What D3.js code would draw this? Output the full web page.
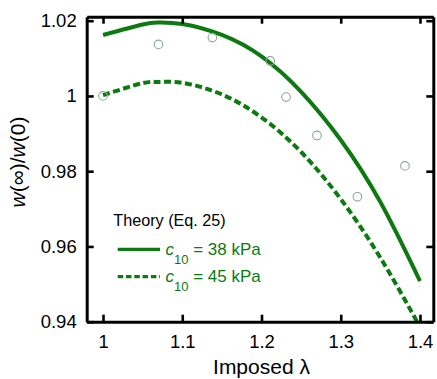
<!DOCTYPE html>
<html>
<head>
<meta charset="utf-8">
<script src="https://cdn.jsdelivr.net/npm/d3@7"></script>
<style>
  html, body { margin: 0; padding: 0; background: #fff; }
  svg { display: block; font-family: "Liberation Sans", Arial, sans-serif; }
</style>
</head>
<body>
<svg id="chart" width="437" height="379"></svg>
<script>
// Imposed stretch values at which the theory curves are sampled
const lambdas = [1.00, 1.05, 1.07, 1.10, 1.15, 1.20, 1.25, 1.30, 1.35, 1.40];
// Theory (Eq. 25): w(inf)/w(0) for c10 = 38 kPa (solid) and c10 = 45 kPa (dashed)
const theory38 = [1.0162, 1.0190, 1.0195, 1.0191, 1.0162, 1.0105, 1.0011, 0.9883, 0.9718, 0.9508];
const theory45 = [1.0002, 1.0034, 1.0037, 1.0035, 1.0004, 0.9943, 0.9851, 0.9726, 0.9570, 0.9386];
// Measured points
const measuredLambda = [1.000, 1.070, 1.138, 1.211, 1.231, 1.270, 1.321, 1.381];
const measuredRatio  = [1.0000, 1.0137, 1.0155, 1.0093, 0.9997, 0.9895, 0.9732, 0.9814];

const xTicks = [1, 1.1, 1.2, 1.3, 1.4];
const xTickLabels = ["1", "1.1", "1.2", "1.3", "1.4"];
const yTicks = [0.94, 0.96, 0.98, 1, 1.02];
const yTickLabels = ["0.94", "0.96", "0.98", "1", "1.02"];
const legendTitle = "Theory (Eq. 25)";
const legendValues = ["38 kPa", "45 kPa"];

const green = "#0c7a10";
const circleColor = "#8da79a";

const svg = d3.select("#chart");
const plotLeft = 86.7, plotRight = 433.3, plotTop = 16.7, plotBottom = 321.7;

const x = d3.scaleLinear().domain([0.9794, 1.4168]).range([plotLeft, plotRight]);
const y = d3.scaleLinear().domain([0.94, 1.02106]).range([plotBottom, plotTop]);

svg.append("defs").append("clipPath").attr("id", "plot-clip")
  .append("rect").attr("x", plotLeft).attr("y", plotTop)
  .attr("width", plotRight - plotLeft).attr("height", plotBottom - plotTop);

const line = d3.line().x(d => x(d[0])).y(d => y(d[1])).curve(d3.curveNatural);
const zip = (xs, ys) => xs.map((v, i) => [v, ys[i]]);

const plot = svg.append("g").attr("clip-path", "url(#plot-clip)");
plot.append("path").datum(zip(lambdas, theory38))
  .attr("d", line).attr("fill", "none").attr("stroke", green)
  .attr("stroke-width", 4).attr("stroke-linecap", "butt");
plot.append("path").datum(zip(lambdas, theory45))
  .attr("d", line).attr("fill", "none").attr("stroke", green)
  .attr("stroke-width", 4).attr("stroke-dasharray", "7,3.5");

plot.selectAll("circle.pt").data(zip(measuredLambda, measuredRatio)).join("circle")
  .attr("class", "pt")
  .attr("cx", d => x(d[0])).attr("cy", d => y(d[1])).attr("r", 4.3)
  .attr("fill", "none").attr("stroke", circleColor).attr("stroke-width", 1.1);

// Axes: inward ticks on all four sides
function styleAxis(g) {
  g.select(".domain").attr("stroke", "#000").attr("stroke-width", 3);
  g.selectAll(".tick line").attr("stroke", "#000").attr("stroke-width", 2.6);
  g.selectAll(".tick text").attr("fill", "#000")
    .attr("font-size", "18.5px").attr("font-family", "Liberation Sans, Arial, sans-serif");
}

svg.append("g").attr("transform", `translate(0,${plotBottom})`)
  .call(d3.axisBottom(x).tickValues(xTicks).tickSize(-7).tickSizeOuter(0).tickPadding(13.3)
    .tickFormat((d, i) => xTickLabels[i]))
  .call(styleAxis);
svg.append("g").attr("transform", `translate(${plotLeft},0)`)
  .call(d3.axisLeft(y).tickValues(yTicks).tickSize(-7).tickSizeOuter(0).tickPadding(10)
    .tickFormat((d, i) => yTickLabels[i]))
  .call(styleAxis);
svg.append("g").attr("transform", `translate(0,${plotTop})`)
  .call(d3.axisTop(x).tickValues(xTicks).tickSize(-7).tickSizeOuter(0).tickFormat(""))
  .call(styleAxis);
svg.append("g").attr("transform", `translate(${plotRight},0)`)
  .call(d3.axisRight(y).tickValues(yTicks).tickSize(-7).tickSizeOuter(0).tickFormat(""))
  .call(styleAxis);

// Axis titles
svg.append("text").attr("x", (plotLeft + plotRight) / 2 + 1.5).attr("y", 374.3)
  .attr("text-anchor", "middle").attr("font-size", "21px").attr("fill", "#000")
  .text("Imposed \u03bb");

const yl = svg.append("text")
  .attr("transform", `translate(25,162) rotate(-90)`)
  .attr("text-anchor", "middle").attr("font-size", "21px").attr("fill", "#000");
yl.append("tspan").attr("font-style", "italic").text("w");
yl.append("tspan").text("(\u221e)/");
yl.append("tspan").attr("font-style", "italic").text("w");
yl.append("tspan").text("(0)");

// Legend
svg.append("text").attr("x", 113.3).attr("y", 226)
  .attr("font-size", "16.2px").attr("fill", "#000").text(legendTitle);

const legendRows = [
  { y: 249.3, dash: null, value: legendValues[0] },
  { y: 276.7, dash: "5.5,2.8", value: legendValues[1] }
];
legendRows.forEach(r => {
  svg.append("line").attr("x1", 117.7).attr("x2", 160).attr("y1", r.y).attr("y2", r.y)
    .attr("stroke", green).attr("stroke-width", 3.3)
    .attr("stroke-dasharray", r.dash);
  const t = svg.append("text").attr("x", 165.5).attr("y", r.y + 5.3)
    .attr("font-size", "17px").attr("fill", green);
  t.append("tspan").attr("font-style", "italic").text("c");
  t.append("tspan").attr("font-size", "13px").attr("dy", 9).text("10");
  t.append("tspan").attr("dy", -9).text(" = " + r.value);
});
</script>
</body>
</html>
